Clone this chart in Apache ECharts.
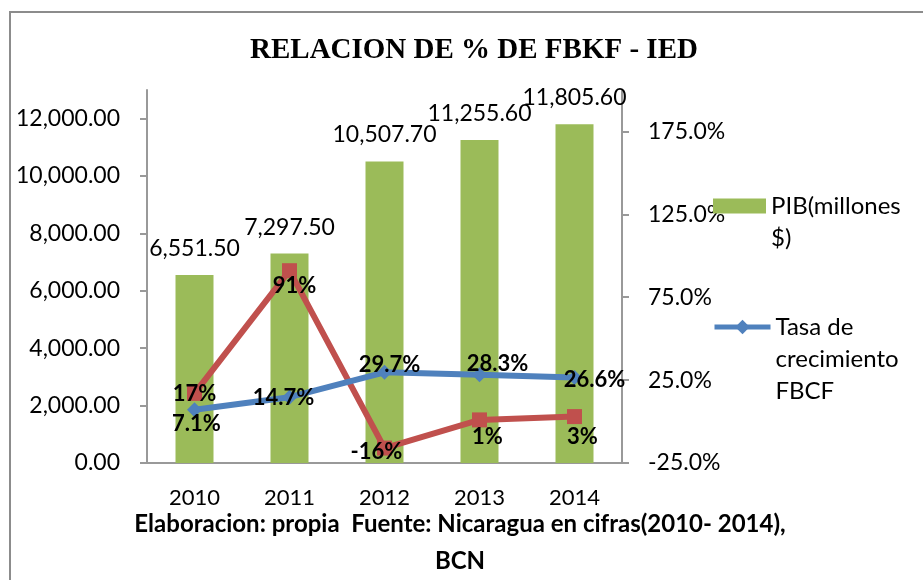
<!DOCTYPE html>
<html>
<head>
<meta charset="utf-8">
<script src="https://cdn.jsdelivr.net/npm/echarts@6/dist/echarts.min.js"></script>
<style>
  html, body { margin: 0; padding: 0; background: #fff; }
  #chart { width: 923px; height: 580px; }
</style>
</head>
<body>
<div id="chart"></div>
<script>
// datos
const years = ['2010', '2011', '2012', '2013', '2014'];
const pib = [6551.5, 7297.5, 10507.7, 11255.6, 11805.6];
const tasaFBCF = [7.1, 14.7, 29.7, 28.3, 26.6];
const relacionIED = [17, 91, -16, 1, 3];
const leftTicks = [0, 2000, 4000, 6000, 8000, 10000, 12000];
const rightTicks = [-25, 25, 75, 125, 175];

// desplazamiento de etiquetas (como en el original)
const tasaOffsets = [[2, 14], [-6, 1], [5, -7], [18, -11], [20, 2]];
const iedOffsets = [[0, 1], [5, 15], [-8, 4], [8, 17], [8, 20]];

const chart = echarts.init(document.getElementById('chart'));

const fontSans = 'Lato';
const axisColor = '#999';

const option = {
  animation: false,
  title: {
    text: 'RELACION DE % DE FBKF - IED',
    left: 250,
    top: 36,
    padding: 0,
    textStyle: { fontFamily: 'Liberation Serif', fontWeight: 'bold', fontSize: 29, color: '#000' }
  },
  legend: [
    {
      data: ['PIB(millones $)'],
      left: 713,
      top: 158,
      padding: 0,
      itemWidth: 53,
      itemHeight: 15,
      icon: 'rect',
      // linea vacia arriba para alinear el icono con la primera linea
      formatter: () => '\nPIB(millones\n$)',
      textStyle: { fontFamily: fontSans, fontSize: 24, lineHeight: 32, color: '#000' }
    },
    {
      data: ['Tasa de crecimiento FBCF'],
      left: 712,
      top: 247,
      padding: 0,
      itemWidth: 56,
      itemHeight: 18,
      lineStyle: { width: 5 },
      formatter: () => '\n\nTasa de\ncrecimiento\nFBCF',
      textStyle: { fontFamily: fontSans, fontSize: 24, lineHeight: 32, color: '#000' }
    }
  ],
  grid: { left: 147, right: 301, top: 90, bottom: 117 },
  xAxis: {
    type: 'category',
    data: years,
    axisLine: { lineStyle: { color: axisColor, width: 2 } },
    axisTick: { length: 8, lineStyle: { color: axisColor, width: 2 } },
    axisLabel: { fontFamily: fontSans, fontSize: 22, color: '#000', margin: 24 }
  },
  yAxis: [
    {
      type: 'value',
      min: 0,
      max: 13000,
      interval: 2000,
      splitLine: { show: false },
      axisLine: { show: true, lineStyle: { color: axisColor, width: 2 } },
      axisTick: { show: true, length: 7, customValues: leftTicks, lineStyle: { color: axisColor, width: 2 } },
      axisLabel: {
        customValues: leftTicks,
        fontFamily: fontSans, fontSize: 23, color: '#000', margin: 27,
        formatter: v => v.toLocaleString('en-US', { minimumFractionDigits: 2, maximumFractionDigits: 2 })
      }
    },
    {
      type: 'value',
      min: -25,
      max: 200,
      splitLine: { show: false },
      axisLine: { show: true, lineStyle: { color: axisColor, width: 2 } },
      axisTick: { show: true, length: 7, customValues: rightTicks, lineStyle: { color: axisColor, width: 2 } },
      axisLabel: {
        customValues: rightTicks,
        fontFamily: fontSans, fontSize: 23, color: '#000', margin: 26,
        formatter: v => v.toFixed(1) + '%'
      }
    }
  ],
  series: [
    {
      name: 'PIB(millones $)',
      type: 'bar',
      data: pib,
      barWidth: '40%',
      itemStyle: { color: '#9BBB59' },
      label: {
        show: true,
        position: 'top',
        distance: 15,
        fontFamily: fontSans, fontSize: 23, color: '#000',
        formatter: p => p.value.toLocaleString('en-US', { minimumFractionDigits: 2, maximumFractionDigits: 2 })
      }
    },
    {
      name: 'IED',
      type: 'line',
      yAxisIndex: 1,
      data: relacionIED.map((v, i) => ({ value: v, label: { offset: iedOffsets[i] } })),
      symbol: 'rect',
      symbolSize: 15,
      lineStyle: { color: '#C0504D', width: 6 },
      itemStyle: { color: '#C0504D' },
      label: {
        show: true,
        position: 'inside',
        fontFamily: fontSans, fontWeight: 'bold', fontSize: 22, color: '#000',
        formatter: p => p.value + '%'
      }
    },
    {
      name: 'Tasa de crecimiento FBCF',
      type: 'line',
      yAxisIndex: 1,
      data: tasaFBCF.map((v, i) => ({ value: v, label: { offset: tasaOffsets[i] } })),
      symbol: 'diamond',
      symbolSize: 15,
      lineStyle: { color: '#4F81BD', width: 6 },
      itemStyle: { color: '#4F81BD' },
      label: {
        show: true,
        position: 'inside',
        fontFamily: fontSans, fontWeight: 'bold', fontSize: 22, color: '#000',
        formatter: p => p.value.toFixed(1) + '%'
      }
    }
  ],
  graphic: [
    {
      type: 'rect',
      silent: true,
      shape: { x: 10, y: 12, width: 940, height: 600 },
      style: { fill: 'none', stroke: '#8c8c8c', lineWidth: 2 }
    },
    {
      type: 'text',
      silent: true,
      x: 460,
      y: 543,
      style: {
        text: 'Elaboracion: propia  Fuente: Nicaragua en cifras(2010- 2014),\nBCN',
        align: 'center',
        verticalAlign: 'middle',
        fontFamily: fontSans, fontWeight: 'bold', fontSize: 24, lineHeight: 37,
        fill: '#000'
      }
    }
  ]
};

chart.setOption(option);
</script>
</body>
</html>
